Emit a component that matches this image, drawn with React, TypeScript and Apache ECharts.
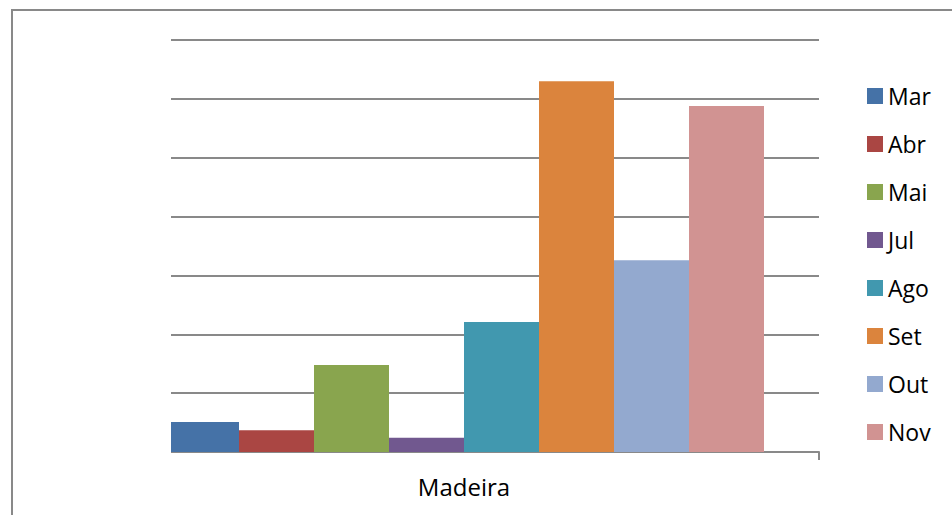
import React, { useEffect, useRef } from "react";
import * as echarts from "echarts";

// Single category, one bar per month
const categories = ["Madeira"];
const months = ["Mar", "Abr", "Mai", "Jul", "Ago", "Set", "Out", "Nov"];
const values = [0.51, 0.37, 1.48, 0.24, 2.21, 6.3, 3.26, 5.88];
const colors = [
  "#4572A7",
  "#AA4643",
  "#89A54E",
  "#71588F",
  "#4198AF",
  "#DB843D",
  "#93A9CF",
  "#D19392",
];

const FONT = "'Open Sans', 'Liberation Sans', sans-serif";
const GRID_COLOR = "#898989";

export default function App() {
  const ref = useRef<HTMLDivElement>(null);

  useEffect(() => {
    if (!ref.current) return;
    const chart = echarts.init(ref.current, undefined, { renderer: "svg" });

    chart.setOption({
      animation: false,
      backgroundColor: "#ffffff",
      textStyle: { fontFamily: FONT },
      grid: [
        // bars
        { left: 164, top: 40, width: 600, height: 412 },
        // gridlines and baseline
        { left: 171, top: 40, width: 648, height: 412 },
      ],
      xAxis: [
        {
          type: "category",
          gridIndex: 0,
          data: categories,
          axisLine: { show: false },
          axisTick: { show: false },
          axisLabel: {
            margin: 22,
            fontSize: 24,
            lineHeight: 24,
            color: "#000000",
            fontFamily: FONT,
          },
        },
        {
          type: "category",
          gridIndex: 1,
          data: [""],
          axisLine: { show: true, lineStyle: { color: GRID_COLOR, width: 2 } },
          axisTick: { show: true, length: 8, lineStyle: { color: GRID_COLOR, width: 2 } },
          axisLabel: { show: false },
        },
      ],
      yAxis: [
        { type: "value", gridIndex: 0, min: 0, max: 7, interval: 1, show: false },
        {
          type: "value",
          gridIndex: 1,
          min: 0,
          max: 7,
          interval: 1,
          axisLine: { show: false },
          axisTick: { show: false },
          axisLabel: { show: false },
          splitLine: { show: true, lineStyle: { color: GRID_COLOR, width: 2 } },
        },
      ],
      legend: {
        orient: "vertical",
        left: 862,
        top: 79,
        itemWidth: 16,
        itemHeight: 16,
        itemGap: 24,
        icon: "rect",
        data: months,
        textStyle: {
          fontSize: 23,
          lineHeight: 24,
          color: "#000000",
          fontFamily: FONT,
        },
      },
      series: months.map((m, i) => ({
        type: "bar",
        name: m,
        xAxisIndex: 0,
        yAxisIndex: 0,
        data: [values[i]],
        barGap: "0%",
        barCategoryGap: "0%",
        itemStyle: { color: colors[i] },
      })),
      graphic: [
        // plot area starts at the baseline's left end
        {
          type: "rect",
          z: 50,
          shape: { x: 140, y: 30, width: 31, height: 423 },
          style: { fill: "#ffffff" },
        },
        // no tick below the baseline's left end
        {
          type: "rect",
          z: 50,
          shape: { x: 160, y: 453, width: 12.5, height: 12 },
          style: { fill: "#ffffff" },
        },
        // chart frame
        {
          type: "rect",
          z: 60,
          shape: { x: 12, y: 10, width: 1000, height: 600 },
          style: { fill: "none", stroke: GRID_COLOR, lineWidth: 2 },
        },
      ],
    });

    return () => chart.dispose();
  }, []);

  return (
    <div
      ref={ref}
      style={{ position: "fixed", left: 0, top: 0, width: 952, height: 515 }}
    />
  );
}
